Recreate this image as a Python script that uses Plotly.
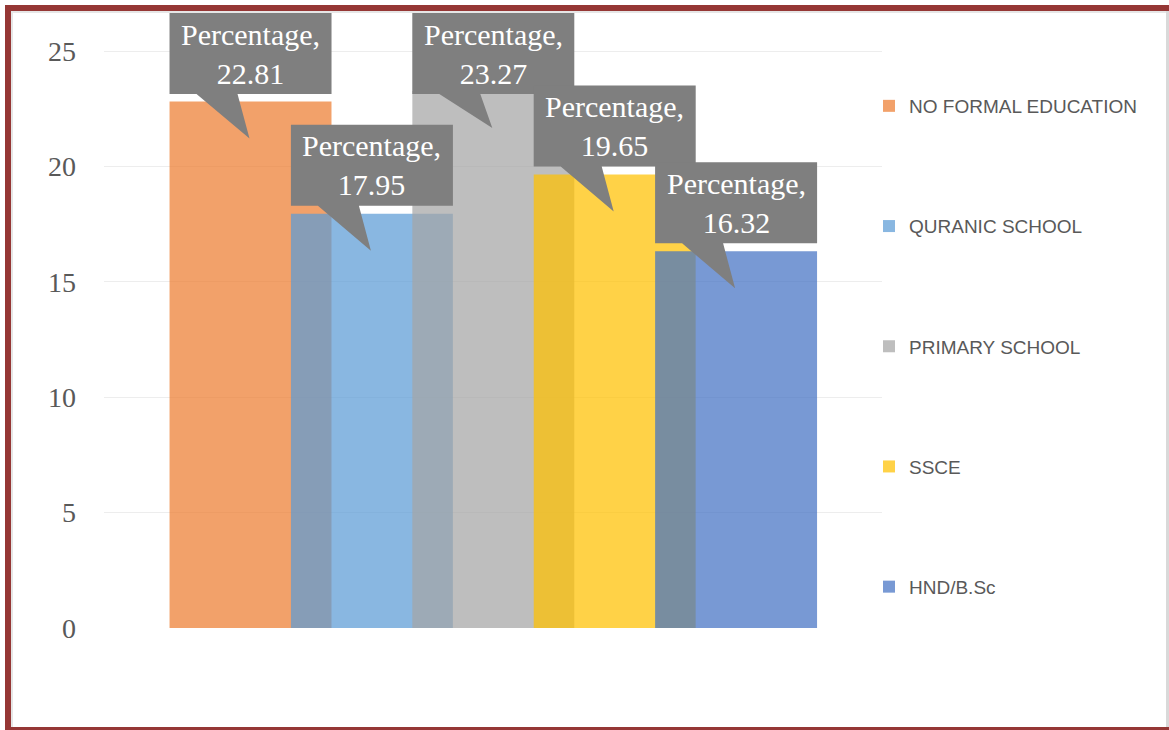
import plotly.graph_objects as go

# ---- data ----
categories = ["NO FORMAL EDUCATION", "QURANIC SCHOOL", "PRIMARY SCHOOL", "SSCE", "HND/B.Sc"]
values = [22.81, 17.95, 23.27, 19.65, 16.32]
category_label = "Percentage"
y_ticks = [0, 5, 10, 15, 20, 25]

# ---- style ----
colors = ["rgba(237,125,49,0.72)", "rgba(91,155,213,0.72)", "rgba(165,165,165,0.72)",
          "rgba(255,192,0,0.72)", "rgba(68,114,196,0.72)"]
W, H = 1169, 730
L, R, B = 104, 287, 102
T = 13                      # plot area extended up to the chart top so callouts are not clipped
grid_top_px = 51            # pixel row of the top gridline (25)
pw, ph = W - L - R, H - T - B
ymax = 25
ppu = (H - B - grid_top_px) / ymax
y_range_top = ymax + (grid_top_px - T) / ppu
bar_w = 1.334
serif = "Liberation Serif, Times New Roman, serif"
sans = "Liberation Sans, Arial, sans-serif"


def X(px):
    return (px - L) / pw


def Y(py):
    return (H - B - py) / ph


fig = go.Figure()
for i, (name, v, col) in enumerate(zip(categories, values, colors)):
    fig.add_trace(go.Bar(x=[i], y=[v], name=name, width=[bar_w],
                         marker=dict(color=col, line=dict(width=0)),
                         legendgroup=name, hoverinfo="skip"))

shapes = []
annotations = []
for i, v in enumerate(values):
    bar_top_px = (H - B) - v * ppu
    shift = max(0.0, 13 - (bar_top_px - 89))
    top = 89 - shift
    bot = 8 - shift
    path = (f"M-81,{top} L81,{top} L81,{bot} L-13,{bot} L-1,-37 "
            f"L-54,{bot} L-81,{bot} Z")
    shapes.append(dict(type="path", xref="x", yref="y", xsizemode="pixel", ysizemode="pixel",
                       xanchor=i, yanchor=v, path=path, fillcolor="#7F7F7F",
                       line=dict(width=0), layer="above"))
    annotations.append(dict(x=i, y=v, xref="x", yref="y", yshift=(top + bot) / 2,
                            text=f"{category_label},<br>{v:.2f}", showarrow=False,
                            font=dict(family=serif, size=30, color="white"),
                            align="center"))


def band(x0, y0, x1, y1, color):
    return dict(type="rect", xref="paper", yref="paper", x0=X(x0), x1=X(x1),
                y0=Y(y0), y1=Y(y1), fillcolor=color, line=dict(width=0), layer="above")


shapes += [
    band(5, 5, 11, 730, "#953735"),
    band(5, 5, 1169, 11, "#953735"),
    band(5, 727, 1169, 730, "#953735"),
    band(1166, 11, 1169, 727, "#D9D9D9"),
    band(11, 11, 13, 727, "#E6E6E6"),
    band(11, 11, 1166, 13, "#E6E6E6"),
]

fig.update_layout(
    width=W, height=H,
    margin=dict(l=L, r=R, t=T, b=B, autoexpand=False),
    paper_bgcolor="white", plot_bgcolor="white",
    barmode="overlay",
    showlegend=True,
    legend=dict(x=X(869), y=Y(87), xanchor="left", yanchor="top",
                font=dict(family=sans, size=19, color="#595959"),
                tracegroupgap=92.5, traceorder="grouped",
                bgcolor="rgba(0,0,0,0)"),
    xaxis=dict(range=[-1.207, 5.202], visible=False, fixedrange=True),
    yaxis=dict(range=[0, y_range_top], tickvals=y_ticks, ticktext=[str(t) for t in y_ticks],
               showgrid=True, gridcolor="#EDEDED", gridwidth=1, zeroline=False,
               showline=False, ticks="", ticklabelstandoff=27,
               tickfont=dict(family=serif, size=28, color="#595959"), fixedrange=True),
    shapes=shapes,
    annotations=annotations,
)

fig.write_html("out.html")
